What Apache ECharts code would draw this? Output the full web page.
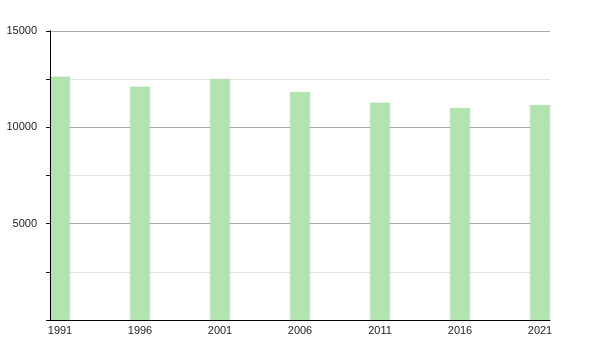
<!DOCTYPE html>
<html>
<head>
<meta charset="utf-8">
<script src="https://cdn.jsdelivr.net/npm/echarts@6/dist/echarts.min.js"></script>
<style>html,body{margin:0;padding:0;background:#fff}#c{width:600px;height:350px}</style>
</head>
<body>
<div id="c"></div>
<script>
var years = [1991, 1996, 2001, 2006, 2011, 2016, 2021];
var population = [12630, 12110, 12510, 11830, 11280, 11000, 11160];
var yTickLabels = [5000, 10000, 15000];

var chart = echarts.init(document.getElementById('c'), null, {renderer: 'canvas'});
chart.setOption({
  animation: false,
  backgroundColor: '#fff',
  grid: {left: 50, right: 50, top: 31, bottom: 30, containLabel: false},
  xAxis: {
    type: 'value',
    z: 5,
    min: 1990.375,
    max: 2021.625,
    splitLine: {show: false},
    axisLine: {show: true, onZero: false, lineStyle: {color: '#000', width: 1}},
    axisTick: {show: false},
    axisLabel: {
      customValues: years,
      color: '#222',
      fontSize: 11,
      fontFamily: 'Liberation Sans, Arial, sans-serif',
      margin: 5,
      formatter: function (v) { return String(Math.round(v)); }
    }
  },
  yAxis: [{
    type: 'value',
    min: 0,
    max: 15000,
    interval: 2500,
    axisLine: {show: true, lineStyle: {color: '#000', width: 1}},
    axisTick: {show: true, length: 4, lineStyle: {color: '#000'}},
    axisLabel: {
      color: '#222',
      fontSize: 11,
      fontFamily: 'Liberation Sans, Arial, sans-serif',
      margin: 13,
      formatter: function (v) { return yTickLabels.indexOf(v) >= 0 ? String(v) : ''; }
    },
    splitLine: {show: true, lineStyle: {color: ['#aaaaaa', '#e4e4e4'], width: 1}}
  }, {
    type: 'value',
    position: 'left',
    z: 5,
    min: 0,
    max: 15000,
    interval: 2500,
    axisLine: {show: true, onZero: false, lineStyle: {color: '#000', width: 1}},
    axisTick: {show: false},
    axisLabel: {show: false},
    splitLine: {show: false}
  }],
  series: [{
    type: 'bar',
    yAxisIndex: 0,
    z: 2,
    data: years.map(function (y, i) { return [y, population[i]]; }),
    barWidth: 20,
    itemStyle: {color: '#b2e4b0', borderColor: '#a8dca6', borderWidth: 0.5}
  }]
});
</script>
</body>
</html>
